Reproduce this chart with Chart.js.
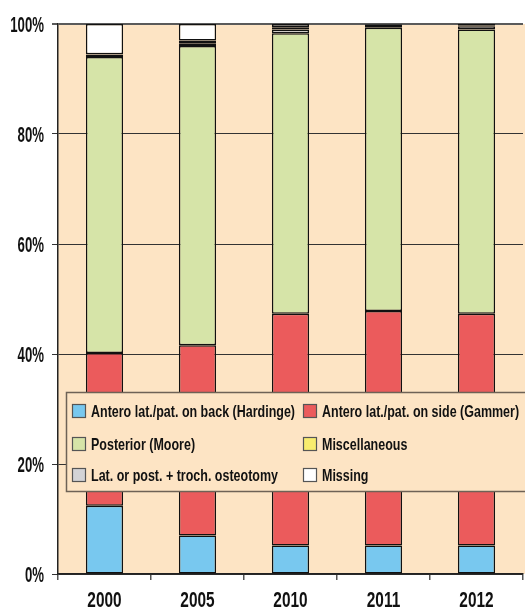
<!DOCTYPE html>
<html>
<head>
<meta charset="utf-8">
<script src="https://cdn.jsdelivr.net/npm/chart.js@4/dist/chart.umd.min.js"></script>
<style>
  html, body { margin: 0; padding: 0; background: #ffffff; }
  #wrap { position: relative; width: 525px; height: 608px; }
</style>
</head>
<body>
<div id="wrap"><canvas id="c" width="525" height="608"></canvas></div>
<script>
// Surgical approach shares (% of procedures) per year
const years = ['2000', '2005', '2010', '2011', '2012'];
const hardinge  = [12.4, 7.0, 5.2, 5.2, 5.2];
const gammer    = [27.8, 34.6, 42.1, 42.6, 42.1];
const moore     = [53.8, 54.4, 51.0, 51.5, 51.7];
const osteotomy = [0.4, 0.5, 0.7, 0.5, 0.6];
const misc      = [0.1, 0.5, 0.4, 0.1, 0.1];
const missing   = [5.5, 3.0, 0.6, 0.1, 0.3];
const yTicks    = [0, 20, 40, 60, 80, 100];

const seriesNames = [
  'Antero lat./pat. on back (Hardinge)',
  'Antero lat./pat. on side (Gammer)',
  'Posterior (Moore)',
  'Lat. or post. + troch. osteotomy',
  'Miscellaneous',
  'Missing'
];
const colors = ['#78c8ef', '#eb5b5c', '#d6e4a8', '#d3d3d6', '#f8ec6e', '#ffffff'];
const seriesData = [hardinge, gammer, moore, osteotomy, misc, missing];

const FONT = "'Liberation Sans', Arial, sans-serif";

// draw text squeezed horizontally to get a condensed face
function condensedText(ctx, text, x, y, sx, align) {
  ctx.save();
  ctx.translate(x, y);
  ctx.scale(sx, 1);
  ctx.textAlign = align;
  ctx.fillText(text, 0, 0);
  ctx.restore();
}

// peach plot background
const plotBg = {
  id: 'plotBg',
  beforeDraw(chart) {
    const { ctx, chartArea: a } = chart;
    ctx.save();
    ctx.fillStyle = '#fde4c4';
    ctx.fillRect(a.left, a.top, chart.width - a.left, a.bottom - a.top);
    ctx.restore();
  }
};

// axis labels in a condensed style
const axisLabels = {
  id: 'axisLabels',
  afterDraw(chart) {
    const ctx = chart.ctx;
    const xs = chart.scales.x, ys = chart.scales.y;
    ctx.save();
    ctx.fillStyle = '#111111';
    ctx.textBaseline = 'alphabetic';
    ctx.font = 'bold 22px ' + FONT;
    yTicks.forEach(v => {
      const py = ys.getPixelForValue(v);
      condensedText(ctx, v + '%', 44, py + 8, 0.6, 'right');
    });
    years.forEach((yr, i) => {
      const px = xs.getPixelForValue(i);
      condensedText(ctx, yr, px, 607, 0.7, 'center');
    });
    ctx.restore();
  }
};

// legend box laid over the lower part of the plot, two columns x three rows
const legendOrder = [0, 1, 2, 4, 3, 5];
const boxLegend = {
  id: 'boxLegend',
  afterDraw(chart) {
    const ctx = chart.ctx;
    ctx.save();
    ctx.fillStyle = '#fde4c4';
    ctx.fillRect(66, 392, 470, 100);
    ctx.strokeStyle = '#6e6256';
    ctx.lineWidth = 1.5;
    ctx.strokeRect(66.5, 392.5, 470, 99);
    ctx.font = 'bold 17px ' + FONT;
    ctx.textBaseline = 'alphabetic';
    const sx = 204 / ctx.measureText(seriesNames[0]).width;
    const colX = [72, 303];
    const rowY = [404, 437, 468];
    legendOrder.forEach((si, i) => {
      const col = i % 2, row = Math.floor(i / 2);
      const x = colX[col], y = rowY[row];
      ctx.fillStyle = colors[si];
      ctx.fillRect(x, y, 13, 13);
      ctx.strokeStyle = '#555555';
      ctx.lineWidth = 1.2;
      ctx.strokeRect(x + 0.5, y + 0.5, 13, 13);
      ctx.fillStyle = '#111111';
      condensedText(ctx, seriesNames[si], x + 19, y + 13, sx, 'left');
    });
    ctx.restore();
  }
};

new Chart(document.getElementById('c'), {
  type: 'bar',
  data: {
    labels: years,
    datasets: seriesData.map((d, i) => ({
      label: seriesNames[i],
      data: d,
      backgroundColor: colors[i],
      borderColor: '#111111',
      borderWidth: 1.5,
      borderSkipped: false,
      barPercentage: 0.4,
      categoryPercentage: 1.0
    }))
  },
  options: {
    responsive: false,
    animation: false,
    devicePixelRatio: 1,
    layout: { padding: { top: 24, right: 2, left: 0, bottom: 0 } },
    plugins: { legend: { display: false }, tooltip: { enabled: false } },
    scales: {
      x: {
        stacked: true,
        offset: true,
        grid: {
          offset: true,
          drawOnChartArea: false,
          drawTicks: true,
          tickLength: 6,
          color: '#555555',
          lineWidth: 1.5
        },
        border: { display: true, color: '#222222', width: 1.5 },
        ticks: { display: false },
        afterFit(s) { s.height = 34; }
      },
      y: {
        stacked: true,
        min: 0,
        max: 100,
        afterBuildTicks(s) { s.ticks = yTicks.map(v => ({ value: v })); },
        grid: {
          color: (c) => c.tick && c.tick.value === 100 ? '#5a5a5a' : '#333333',
          lineWidth: (c) => c.tick && c.tick.value === 100 ? 2 : 1,
          drawTicks: true,
          tickLength: 6
        },
        border: { display: true, color: '#222222', width: 1.5 },
        ticks: { display: false },
        afterFit(s) { s.width = 58; }
      }
    }
  },
  plugins: [plotBg, axisLabels, boxLegend]
});
</script>
</body>
</html>
